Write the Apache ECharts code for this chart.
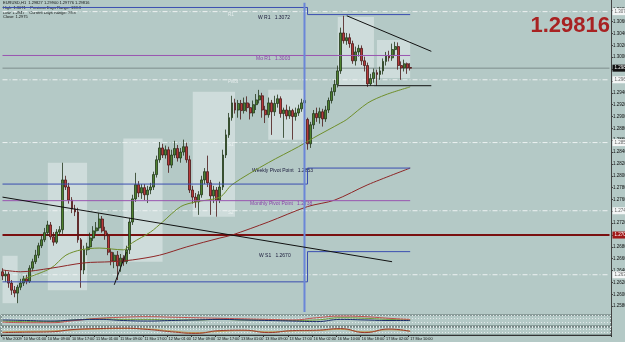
<!DOCTYPE html>
<html>
<head>
<meta charset="utf-8">
<script src="https://cdn.jsdelivr.net/npm/echarts@6/dist/echarts.min.js"></script>
<style>
  html, body { margin: 0; padding: 0; background: #b4c9c6; }
  #chart { width: 625px; height: 342px; }
</style>
</head>
<body>
<div id="chart"></div>
<script>
// EURUSD H1, 9 - 17 Mar 2009 (hourly bars)
const days = [['9 Mar', 18, 23], ['10 Mar', 0, 23], ['11 Mar', 0, 23], ['12 Mar', 0, 23],
  ['13 Mar', 0, 22], ['16 Mar', 0, 23], ['17 Mar', 0, 10]]
const emptySlots = 66

const tickIdx = [0, 7, 15, 23, 31, 39, 47, 55, 63, 71, 79, 87, 95, 103, 111, 119, 127, 135]
const tickText = ['9 Mar 2009', '10 Mar 01:00', '10 Mar 09:00', '10 Mar 17:00', '11 Mar 01:00',
  '11 Mar 09:00', '11 Mar 17:00', '12 Mar 01:00', '12 Mar 09:00', '12 Mar 17:00', '13 Mar 01:00',
  '13 Mar 09:00', '13 Mar 17:00', '16 Mar 02:00', '16 Mar 10:00', '16 Mar 18:00', '17 Mar 02:00',
  '17 Mar 10:00']

// [open, close, low, high]
const ohlc = [
  [1.2638, 1.2631, 1.2624, 1.2644], [1.2631, 1.2634, 1.2621, 1.2641], [1.2634, 1.2619, 1.2611, 1.2638],
  [1.2619, 1.2607, 1.2599, 1.2624], [1.2607, 1.2602, 1.2595, 1.2614], [1.2602, 1.2612, 1.2585, 1.2616],
  [1.2612, 1.2619, 1.2607, 1.2626], [1.2619, 1.2626, 1.2614, 1.2631], [1.2626, 1.2622, 1.2617, 1.2633],
  [1.2622, 1.2644, 1.2619, 1.2649], [1.2644, 1.2655, 1.2639, 1.2660], [1.2655, 1.2666, 1.2651, 1.2675],
  [1.2666, 1.2682, 1.2661, 1.2687], [1.2682, 1.2692, 1.2678, 1.2699], [1.2692, 1.2704, 1.2688, 1.2712],
  [1.2704, 1.2717, 1.2699, 1.2724], [1.2717, 1.2697, 1.2692, 1.2722], [1.2697, 1.2688, 1.2682, 1.2705],
  [1.2688, 1.2705, 1.2685, 1.2710], [1.2705, 1.2709, 1.2699, 1.2715], [1.2709, 1.2793, 1.2702, 1.2822],
  [1.2793, 1.2781, 1.2776, 1.2800], [1.2781, 1.2759, 1.2753, 1.2788], [1.2759, 1.2744, 1.2737, 1.2764],
  [1.2744, 1.2739, 1.2732, 1.2751], [1.2739, 1.2692, 1.2687, 1.2746], [1.2692, 1.2641, 1.2611, 1.2695],
  [1.2641, 1.2675, 1.2634, 1.2682], [1.2675, 1.2680, 1.2666, 1.2687], [1.2680, 1.2695, 1.2675, 1.2704],
  [1.2695, 1.2707, 1.2690, 1.2715], [1.2707, 1.2712, 1.2702, 1.2722], [1.2712, 1.2727, 1.2707, 1.2737],
  [1.2727, 1.2707, 1.2704, 1.2732], [1.2707, 1.2699, 1.2692, 1.2714], [1.2699, 1.2671, 1.2666, 1.2704],
  [1.2671, 1.2656, 1.2649, 1.2677], [1.2656, 1.2666, 1.2644, 1.2671], [1.2666, 1.2648, 1.2624, 1.2673],
  [1.2648, 1.2661, 1.2638, 1.2668], [1.2661, 1.2655, 1.2648, 1.2666], [1.2655, 1.2675, 1.2651, 1.2682],
  [1.2675, 1.2722, 1.2668, 1.2729], [1.2722, 1.2761, 1.2717, 1.2768], [1.2761, 1.2785, 1.2756, 1.2805],
  [1.2785, 1.2771, 1.2764, 1.2791], [1.2771, 1.2780, 1.2761, 1.2786], [1.2780, 1.2768, 1.2759, 1.2786],
  [1.2768, 1.2776, 1.2754, 1.2783], [1.2776, 1.2781, 1.2769, 1.2788], [1.2781, 1.2802, 1.2776, 1.2807],
  [1.2802, 1.2827, 1.2797, 1.2834], [1.2827, 1.2847, 1.2822, 1.2857], [1.2847, 1.2835, 1.2830, 1.2854],
  [1.2835, 1.2844, 1.2829, 1.2851], [1.2844, 1.2818, 1.2805, 1.2849], [1.2818, 1.2835, 1.2813, 1.2844],
  [1.2835, 1.2846, 1.2830, 1.2859], [1.2846, 1.2830, 1.2824, 1.2852], [1.2830, 1.2840, 1.2822, 1.2847],
  [1.2840, 1.2849, 1.2834, 1.2861], [1.2849, 1.2827, 1.2822, 1.2856], [1.2827, 1.2776, 1.2771, 1.2834],
  [1.2776, 1.2764, 1.2753, 1.2783], [1.2764, 1.2756, 1.2746, 1.2771], [1.2756, 1.2768, 1.2734, 1.2774],
  [1.2768, 1.2793, 1.2763, 1.2800], [1.2793, 1.2807, 1.2786, 1.2813], [1.2807, 1.2788, 1.2781, 1.2834],
  [1.2788, 1.2766, 1.2734, 1.2793], [1.2766, 1.2776, 1.2754, 1.2783], [1.2776, 1.2759, 1.2731, 1.2781],
  [1.2759, 1.2781, 1.2754, 1.2790], [1.2781, 1.2835, 1.2776, 1.2844], [1.2835, 1.2869, 1.2830, 1.2878],
  [1.2869, 1.2898, 1.2864, 1.2906], [1.2898, 1.2923, 1.2893, 1.2935], [1.2923, 1.2911, 1.2905, 1.2930],
  [1.2911, 1.2922, 1.2898, 1.2928], [1.2922, 1.2910, 1.2895, 1.2928], [1.2910, 1.2923, 1.2905, 1.2932],
  [1.2923, 1.2915, 1.2908, 1.2934], [1.2915, 1.2906, 1.2895, 1.2922], [1.2906, 1.2920, 1.2900, 1.2927],
  [1.2920, 1.2928, 1.2911, 1.2938], [1.2928, 1.2935, 1.2922, 1.2945], [1.2935, 1.2911, 1.2898, 1.2940],
  [1.2911, 1.2903, 1.2889, 1.2918], [1.2903, 1.2923, 1.2898, 1.2932], [1.2923, 1.2908, 1.2869, 1.2928],
  [1.2908, 1.2922, 1.2901, 1.2935], [1.2922, 1.2930, 1.2915, 1.2937], [1.2930, 1.2905, 1.2898, 1.2934],
  [1.2905, 1.2911, 1.2864, 1.2915], [1.2911, 1.2901, 1.2895, 1.2920], [1.2901, 1.2910, 1.2896, 1.2917],
  [1.2910, 1.2900, 1.2861, 1.2913], [1.2900, 1.2906, 1.2893, 1.2915], [1.2906, 1.2913, 1.2901, 1.2920],
  [1.2913, 1.2923, 1.2908, 1.2930], [1.2923, 1.2927, 1.2918, 1.2934], [1.2895, 1.2854, 1.2844, 1.2898],
  [1.2854, 1.2886, 1.2847, 1.2891], [1.2886, 1.2905, 1.2879, 1.2911], [1.2905, 1.2898, 1.2891, 1.2915],
  [1.2898, 1.2908, 1.2888, 1.2915], [1.2908, 1.2896, 1.2883, 1.2913], [1.2896, 1.2911, 1.2891, 1.2918],
  [1.2911, 1.2927, 1.2906, 1.2932], [1.2927, 1.2942, 1.2922, 1.2949], [1.2942, 1.2954, 1.2935, 1.2962],
  [1.2954, 1.2977, 1.2949, 1.2986], [1.2977, 1.3041, 1.2972, 1.3050], [1.3041, 1.3028, 1.3023, 1.3070],
  [1.3028, 1.3033, 1.3021, 1.3041], [1.3033, 1.3023, 1.3016, 1.3040], [1.3023, 1.2994, 1.2989, 1.3028],
  [1.2994, 1.3009, 1.2986, 1.3018], [1.3009, 1.3015, 1.3001, 1.3021], [1.3015, 1.2994, 1.2987, 1.3020],
  [1.2994, 1.2986, 1.2976, 1.3001], [1.2986, 1.2955, 1.2950, 1.2991], [1.2955, 1.2964, 1.2952, 1.2972],
  [1.2964, 1.2974, 1.2957, 1.2981], [1.2974, 1.2971, 1.2952, 1.2979], [1.2971, 1.2977, 1.2962, 1.2984],
  [1.2977, 1.2993, 1.2971, 1.2998], [1.2993, 1.3003, 1.2986, 1.3009], [1.3003, 1.2999, 1.2993, 1.3011],
  [1.2999, 1.3013, 1.2994, 1.3023], [1.3013, 1.3018, 1.3004, 1.3026], [1.3018, 1.2986, 1.2979, 1.3025],
  [1.2986, 1.2982, 1.2962, 1.2993], [1.2982, 1.2989, 1.2976, 1.2996], [1.2989, 1.2982, 1.2972, 1.2991],
  [1.29827, 1.29816, 1.29776, 1.29900]
]

// moving averages, [bar index, value]
const maFast = [[7, 1.2626], [16, 1.2644], [21, 1.2666], [26, 1.2675], [32, 1.2678], [40, 1.2675],
  [43, 1.2687], [49, 1.2705], [53, 1.2722], [59, 1.2748], [64, 1.2756], [72, 1.2764], [76, 1.2785],
  [88, 1.2822], [98, 1.2849], [103, 1.2864], [112, 1.2889], [114, 1.2895], [121, 1.2923],
  [127, 1.2937], [135, 1.2950]]
const maSlow = [[0, 1.2641], [6, 1.2638], [16, 1.2644], [27, 1.2653], [36, 1.2655], [43, 1.2658],
  [52, 1.2666], [61, 1.2680], [72, 1.2695], [76, 1.2700], [88, 1.2722], [101, 1.2748],
  [110, 1.2759], [121, 1.2785], [135, 1.2813]]

// levels
const dailyLevels = [1.3077, 1.2962, 1.2856, 1.2741, 1.2633]
const dailyNames = ['R1', 'Pivot', 'S1', 'S2']
const weeklyPrev = [1.3084, 1.2786, 1.2621]
const weeklyNow = [1.3072, 1.2813, 1.2672]
const monthly = [1.3003, 1.2758]
const lastPrice = 1.29816
const redLevel = 1.2700

// session boxes [fromIdx, toIdx, top, bottom]
const boxes = [[0, 5, 1.2665, 1.2585], [15, 28, 1.2822, 1.2607], [40, 53, 1.2863, 1.2655],
  [63, 77, 1.2942, 1.2731], [88, 100, 1.2945, 1.2861], [111, 123, 1.3068, 1.2950],
  [124, 135, 1.3029, 1.2965]]

// drawn trend lines [fromIdx, fromPrice, toIdx, toPrice]
const trendLines = [[0, 1.2764, 129, 1.2655], [37, 1.2616, 41, 1.2671], [114, 1.3070, 142, 1.3010],
  [111, 1.2952, 142, 1.2952]]

// sub-window indicators, sampled every 8 bars
const subIdx = [0, 8, 16, 24, 32, 40, 48, 56, 64, 72, 80, 88, 96, 104, 112, 120, 128, 135]
const sub1Navy = [55, 50, 45, 55, 60, 50, 45, 50, 55, 60, 55, 50, 45, 40, 60, 55, 50, 50]
const sub1Red = [35, 30, 30, 50, 70, 80, 85, 80, 75, 70, 65, 60, 55, 75, 90, 85, 70, 60]
const sub1Green = [45, 40, 40, 55, 65, 60, 60, 55, 55, 60, 55, 55, 50, 55, 75, 70, 60, 55]
const sub2Brown = [30, 35, 40, 70, 80, 85, 70, 40, 20, 55, 60, 30, 55, 60, 80, 30, 75, 45]
const sub2Tan = [40, 45, 50, 65, 75, 80, 75, 50, 30, 45, 55, 40, 50, 55, 70, 40, 65, 50]

const categories = []
days.forEach(([d, h0, h1]) => {
  for (let h = h0; h <= h1; h++) categories.push(d + ' ' + String(h).padStart(2, '0') + ':00')
})
for (let k = 0; k < emptySlots; k++) categories.push('')
const lastSlot = categories.length - 1

const bg = '#b4c9c6'
const font = 'Liberation Sans, Arial, sans-serif'
const pairs = (idx, vals) => idx.map((x, k) => [x, vals[k]])

const chart = echarts.init(document.getElementById('chart'))

// plain segment drawn as a two point line series on the price pane
function segment(x0, y0, x1, y1, color, width, type, z) {
  return {
    type: 'line', xAxisIndex: 0, yAxisIndex: 0, data: [[x0, y0], [x1, y1]], z: z || 5,
    showSymbol: false, silent: true, lineStyle: { color: color, width: width, type: type || 'solid' }
  }
}
// full width level with a price tag on the axis
function level(v, color, width, type, tagBg, tagColor) {
  const s = segment(0, v, lastSlot, v, color, width, type, 2)
  s.endLabel = {
    show: true, formatter: v.toFixed(5), backgroundColor: tagBg, color: tagColor,
    fontSize: 4.5, fontFamily: font, padding: [1, 2], distance: 3
  }
  return s
}

const lineSeries = []
boxes.forEach(b => lineSeries.push({
  type: 'line', xAxisIndex: 0, yAxisIndex: 0, data: [], z: 1, silent: true,
  markArea: { silent: true, itemStyle: { color: 'rgba(238,243,243,0.45)' }, data: [[{ coord: [b[0], b[2]] }, { coord: [b[1], b[3]] }]] }
}))
dailyLevels.forEach(v => lineSeries.push(level(v, '#eef2f2', 1, [5, 2, 1, 2], '#f4f6f6', '#666')))
lineSeries.push(level(lastPrice, '#7f8e8c', 1, 'solid', '#111', '#fff'))
lineSeries.push(level(redLevel, '#7a1010', 2, 'solid', '#a01818', '#fff'))
weeklyPrev.forEach((v, k) => {
  lineSeries.push(segment(0, v, 100.6, v, '#3b4fb0', 1))
  lineSeries.push(segment(100.6, v, 100.6, weeklyNow[k], '#3b4fb0', 1))
  lineSeries.push(segment(100.6, weeklyNow[k], 135.3, weeklyNow[k], '#3b4fb0', 1))
})
monthly.forEach(v => lineSeries.push(segment(0, v, 135.3, v, '#9a55b0', 1)))
lineSeries.push(segment(100.4, 1.2570, 100.4, 1.3092, '#6a86d8', 2))
trendLines.forEach(t => lineSeries.push(segment(t[0], t[1], t[2], t[3], '#111', 1, 'solid', 6)))

const option = {
  animation: false,
  backgroundColor: bg,
  grid: [
    { left: 1, right: 14, top: -2, height: 320, outerBoundsMode: 'none' },
    { left: 1, right: 14, top: 315, height: 11, outerBoundsMode: 'none', show: true, backgroundColor: bg, borderColor: '#5e6e6c', borderWidth: 1 },
    { left: 1, right: 14, top: 327, height: 8, outerBoundsMode: 'none', show: true, backgroundColor: bg, borderColor: '#5e6e6c', borderWidth: 1 }
  ],
  xAxis: [0, 1, 2].map(g => ({
    type: 'category', gridIndex: g, data: categories, boundaryGap: true,
    axisLine: { show: g === 2, lineStyle: { color: '#333' } },
    axisTick: { show: g === 2, length: 2, interval: (i) => tickIdx.includes(i), lineStyle: { color: '#333' } },
    axisLabel: {
      show: g === 2, interval: (i) => tickIdx.includes(i), fontSize: 3.8, color: '#111', margin: 2,
      fontFamily: font, align: 'left',
      formatter: (v, i) => tickText[tickIdx.indexOf(i)] || ''
    },
    splitLine: { show: false }
  })),
  yAxis: [
    {
      type: 'value', gridIndex: 0, position: 'right', min: 1.256, max: 1.31, interval: 0.002,
      axisLine: { show: true, lineStyle: { color: '#444' } },
      axisTick: { show: true, length: 2, lineStyle: { color: '#444' } },
      axisLabel: { fontSize: 4.5, color: '#111', margin: 2, fontFamily: font, showMinLabel: false, showMaxLabel: false, formatter: v => v.toFixed(5) },
      splitLine: { show: false }
    },
    {
      type: 'value', gridIndex: 1, position: 'right', min: 0, max: 100, interval: 35,
      axisLine: { show: true, lineStyle: { color: '#444' } }, axisTick: { show: false }, axisLabel: { show: false },
      splitLine: { show: true, lineStyle: { color: '#e4ecec', type: [1, 2] } }
    },
    {
      type: 'value', gridIndex: 2, position: 'right', min: 0, max: 100, interval: 35,
      axisLine: { show: true, lineStyle: { color: '#444' } }, axisTick: { show: false }, axisLabel: { show: false },
      splitLine: { show: true, lineStyle: { color: '#e4ecec', type: [1, 2] } }
    }
  ],
  series: [
    ...lineSeries,
    {
      type: 'candlestick', xAxisIndex: 0, yAxisIndex: 0, data: ohlc, z: 3, barWidth: 2.4,
      itemStyle: { color: '#4f822e', color0: '#b83a3a', borderColor: '#22361a', borderColor0: '#4a1616', borderWidth: 0.8 }
    },
    {
      type: 'line', xAxisIndex: 0, yAxisIndex: 0, data: maFast, showSymbol: false, smooth: 0.3, z: 4,
      lineStyle: { color: '#6f8f2a', width: 1 }
    },
    {
      type: 'line', xAxisIndex: 0, yAxisIndex: 0, data: maSlow, showSymbol: false, smooth: 0.3, z: 4,
      lineStyle: { color: '#8e2626', width: 1 }
    },
    { type: 'line', xAxisIndex: 1, yAxisIndex: 1, data: pairs(subIdx, sub1Green), showSymbol: false, smooth: true, lineStyle: { color: '#6f9a3a', width: 1 } },
    { type: 'line', xAxisIndex: 1, yAxisIndex: 1, data: pairs(subIdx, sub1Red), showSymbol: false, smooth: true, lineStyle: { color: '#c0504d', width: 1 } },
    { type: 'line', xAxisIndex: 1, yAxisIndex: 1, data: pairs(subIdx, sub1Navy), showSymbol: false, smooth: true, lineStyle: { color: '#1a2a6a', width: 1 } },
    { type: 'line', xAxisIndex: 2, yAxisIndex: 2, data: pairs(subIdx, sub2Tan), showSymbol: false, smooth: true, lineStyle: { color: '#c09a50', width: 1 } },
    { type: 'line', xAxisIndex: 2, yAxisIndex: 2, data: pairs(subIdx, sub2Brown), showSymbol: false, smooth: true, lineStyle: { color: '#9a3a2a', width: 1 } }
  ],
  graphic: [
    { type: 'text', left: 3, top: 1, style: { text: 'EURUSD,H1  1.29827 1.29900 1.29776 1.29816', fontSize: 4, fill: '#111', fontFamily: font } },
    { type: 'text', left: 3, top: 6, style: { text: 'High: 1.3071    Previous Days Range: 133.3', fontSize: 4, fill: '#111', fontFamily: font } },
    { type: 'text', left: 3, top: 11, style: { text: 'Low: 1.2947    Current Days Range: 79.8', fontSize: 4, fill: '#111', fontFamily: font } },
    { type: 'text', left: 3, top: 15, style: { text: 'Close: 1.2975', fontSize: 4, fill: '#111', fontFamily: font } },
    { type: 'text', right: 15, top: 15, style: { text: lastPrice.toFixed(5), fontSize: 22, fontWeight: 'bold', fill: '#a82222', fontFamily: font } },
    { type: 'text', left: 258, top: 15, style: { text: 'W R1   1.3072', fontSize: 5, fill: '#1a1a3a', fontFamily: font } },
    { type: 'text', left: 256, top: 56, style: { text: 'Mo R1   1.3003', fontSize: 5, fill: '#8a44a8', fontFamily: font } },
    { type: 'text', left: 252, top: 168, style: { text: 'Weekly Pivot Point   1.2853', fontSize: 5, fill: '#1a1a3a', fontFamily: font } },
    { type: 'text', left: 250, top: 201, style: { text: 'Monthly Pivot Point   1.2738', fontSize: 5, fill: '#8a44a8', fontFamily: font } },
    { type: 'text', left: 259, top: 253, style: { text: 'W S1   1.2670', fontSize: 5, fill: '#1a1a3a', fontFamily: font } },
    ...dailyNames.map((n, k) => ({ type: 'text', left: 228, top: [12, 79, 142, 210][k], style: { text: n, fontSize: 4.5, fill: '#e8eeee', fontFamily: font } }))
  ]
}

chart.setOption(option)
</script>
</body>
</html>
